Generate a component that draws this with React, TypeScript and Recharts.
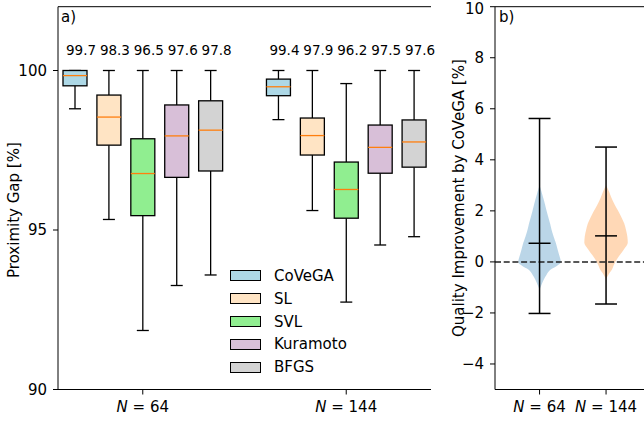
import React from 'react';
import { ComposedChart, Bar, Area, XAxis, YAxis, ReferenceLine } from 'recharts';

const FONT = '"DejaVu Sans", sans-serif';

// panel a) box plots
const methods = ['CoVeGA', 'SL', 'SVL', 'Kuramoto', 'BFGS'];
const sizes = ['64', '144'];
const boxColors = ['#add8e6', '#ffe4c4', '#90ee90', '#d8bfd8', '#d3d3d3'];

const whiskerLow = [
  [98.8, 95.33, 91.85, 93.26, 93.59],
  [98.46, 95.61, 92.74, 94.53, 94.79],
];
const quartile1 = [
  [99.52, 97.66, 95.45, 96.65, 96.85],
  [99.21, 97.35, 95.37, 96.78, 96.97],
];
const medians = [
  [99.84, 98.54, 96.77, 97.95, 98.13],
  [99.49, 97.96, 96.27, 97.59, 97.76],
];
const quartile3 = [
  [100.0, 99.23, 97.86, 98.92, 99.05],
  [99.73, 98.51, 97.13, 98.29, 98.45],
];
const whiskerHigh = [
  [100.0, 100.0, 100.0, 100.0, 100.0],
  [100.0, 100.0, 99.59, 100.0, 100.0],
];
const meanLabels = [
  ['99.7', '98.3', '96.5', '97.6', '97.8'],
  ['99.4', '97.9', '96.2', '97.5', '97.6'],
];
const labelLevel = 100.65;

// panel b) violins
const violinLevels = [-1.1, -0.9, -0.7, -0.5, -0.3, -0.15, 0, 0.25, 0.5, 0.75, 1.0, 1.25, 1.5, 1.75, 2.0, 2.25, 2.5, 2.75, 3.0];
const density64 = [0, 0.09, 0.19, 0.32, 0.51, 0.8, 0.97, 0.9, 0.82, 0.74, 0.64, 0.55, 0.48, 0.4, 0.32, 0.25, 0.17, 0.09, 0];
const density144 = [0, 0, 0.01, 0.11, 0.27, 0.34, 0.42, 0.61, 0.82, 0.99, 0.97, 0.91, 0.83, 0.7, 0.55, 0.39, 0.25, 0.14, 0];
const violinMin = [-2.02, -1.65];
const violinMax = [5.62, 4.5];
const violinMean = [0.73, 1.02];
const violinColors = ['#1f77b4', '#ff7f0e'];
const halfWidth = 0.33;

const boxData: any[] = [];
sizes.forEach((s, g) => {
  if (g > 0) boxData.push({ pos: String(boxData.length + 1) });
  methods.forEach((m, i) => {
    boxData.push({
      pos: String(boxData.length + 1),
      method: m,
      size: s,
      range: [whiskerLow[g][i], whiskerHigh[g][i]],
      q1: quartile1[g][i],
      median: medians[g][i],
      q3: quartile3[g][i],
      label: meanLabels[g][i],
      color: boxColors[i],
    });
  });
});
const groupTick: Record<string, string> = { '3': sizes[0], '9': sizes[1] };

const violinData = violinLevels.map((y, i) => ({ y, d64: density64[i], d144: density144[i] }));

const BoxShape = (props: any) => {
  const { x, y, width, height, payload } = props;
  if (!payload || !payload.range) return null;
  const [lo, hi] = payload.range;
  const top = Math.min(y, y + height);
  const bottom = Math.max(y, y + height);
  const toPx = (v: number) => top + ((hi - v) / (hi - lo)) * (bottom - top);
  const cx = x + width / 2;
  const cap = width / 4;
  return (
    <g>
      <line x1={cx} x2={cx} y1={toPx(hi)} y2={toPx(payload.q3)} stroke="#000" strokeWidth={1.3} />
      <line x1={cx} x2={cx} y1={toPx(payload.q1)} y2={toPx(lo)} stroke="#000" strokeWidth={1.3} />
      <line x1={cx - cap} x2={cx + cap} y1={toPx(hi)} y2={toPx(hi)} stroke="#000" strokeWidth={1.3} />
      <line x1={cx - cap} x2={cx + cap} y1={toPx(lo)} y2={toPx(lo)} stroke="#000" strokeWidth={1.3} />
      <rect
        x={x}
        y={toPx(payload.q3)}
        width={width}
        height={toPx(payload.q1) - toPx(payload.q3)}
        fill={payload.color}
        stroke="#000"
        strokeWidth={1.3}
      />
      <line x1={x} x2={x + width} y1={toPx(payload.median)} y2={toPx(payload.median)} stroke="#ff7f0e" strokeWidth={1.3} />
      <text x={cx + 6} y={toPx(labelLevel)} textAnchor="middle" dominantBaseline="central" fontSize={13.5} fill="#000">
        {payload.label}
      </text>
    </g>
  );
};

const NTick = ({ x, y, text }: any) => (
  <text x={x} y={y} dy={10} textAnchor="middle" dominantBaseline="central" fontSize={15} fill="#000">
    <tspan fontStyle="italic">N</tspan> = {text}
  </text>
);

const minus = (v: number) => (v < 0 ? '\u2212' + Math.abs(v) : String(v));

const rotatedLabel = (text: string, dx: number, dy: number) => (props: any) => {
  const vb = props.viewBox || {};
  const cx = (vb.x || 0) + dx;
  const cy = (vb.y || 0) + (vb.height || 0) / 2 + dy;
  return (
    <text x={cx} y={cy} transform={`rotate(-90 ${cx} ${cy})`} textAnchor="middle" dominantBaseline="central" fontSize={15} fill="#000">
      {text}
    </text>
  );
};

const LeftChart = () => (
  <ComposedChart width={440} height={424} data={boxData} margin={{ top: 6.7, right: 9, bottom: 4.5, left: 0 }}>
    <XAxis
      dataKey="pos"
      type="category"
      ticks={['3', '9']}
      interval={0}
      height={30}
      tickSize={5}
      stroke="#000"
      tick={(p: any) => <NTick x={p.x} y={p.y} text={groupTick[p.payload.value]} />}
    />
    <YAxis
      type="number"
      domain={[90, 102]}
      ticks={[90, 95, 100]}
      width={58}
      tickSize={5}
      tickMargin={6}
      stroke="#000"
      tick={{ fontSize: 15, fill: '#000' }}
      label={{ content: rotatedLabel('Proximity Gap [%]', 14, 12) }}
    />
    <YAxis yAxisId="frame" orientation="right" width={0} type="number" domain={[90, 102]} tick={false} tickLine={false} stroke="#000" />
    <ReferenceLine y={102} stroke="#000" />
    <Bar dataKey="range" barSize={24} shape={(p: any) => <BoxShape {...p} />} isAnimationActive={false} />
  </ComposedChart>
);

const RightChart = () => (
  <ComposedChart layout="vertical" width={240} height={424} data={violinData} margin={{ top: 6.7, right: 19.4, bottom: 4.5, left: 0 }}>
    <XAxis
      type="number"
      domain={[0.33, 2.67]}
      ticks={[1, 2]}
      allowDataOverflow
      height={30}
      tickSize={5}
      stroke="#000"
      tick={(p: any) => <NTick x={p.x} y={p.y} text={sizes[p.payload.value - 1]} />}
    />
    <YAxis
      type="number"
      dataKey="y"
      reversed
      domain={[-5, 10]}
      ticks={[-4, -2, 0, 2, 4, 6, 8, 10]}
      allowDataOverflow
      width={65}
      tickSize={5}
      tickMargin={6}
      stroke="#000"
      tickFormatter={minus}
      tick={{ fontSize: 15, fill: '#000' }}
      label={{ content: rotatedLabel('Quality Improvement by CoVeGA [%]', 29, 0) }}
    />
    <Area
      dataKey={(d: any) => [1 - halfWidth * d.d64, 1 + halfWidth * d.d64]}
      type="monotone"
      stroke="none"
      fill={violinColors[0]}
      fillOpacity={0.3}
      isAnimationActive={false}
    />
    <Area
      dataKey={(d: any) => [2 - halfWidth * d.d144, 2 + halfWidth * d.d144]}
      type="monotone"
      stroke="none"
      fill={violinColors[1]}
      fillOpacity={0.3}
      isAnimationActive={false}
    />
    <ReferenceLine y={0} stroke="#222" strokeDasharray="6 2.7" strokeWidth={1.5} />
    <ReferenceLine y={10} stroke="#000" />
    {sizes.map((s, i) => {
      const p = i + 1;
      const c = halfWidth / 2;
      return (
        <React.Fragment key={s}>
          <ReferenceLine segment={[{ x: p, y: violinMin[i] }, { x: p, y: violinMax[i] }]} stroke="#000" strokeWidth={1.5} />
          <ReferenceLine segment={[{ x: p - c, y: violinMax[i] }, { x: p + c, y: violinMax[i] }]} stroke="#000" strokeWidth={1.5} />
          <ReferenceLine segment={[{ x: p - c, y: violinMin[i] }, { x: p + c, y: violinMin[i] }]} stroke="#000" strokeWidth={1.5} />
          <ReferenceLine segment={[{ x: p - c, y: violinMean[i] }, { x: p + c, y: violinMean[i] }]} stroke="#000" strokeWidth={1.5} />
        </React.Fragment>
      );
    })}
  </ComposedChart>
);

const BoxLegend = () => (
  <div style={{ position: 'absolute', left: 230, top: 264.6, fontSize: 15 }}>
    {methods.map((m, i) => (
      <div key={m} style={{ display: 'flex', alignItems: 'center', height: 22.8 }}>
        <span style={{ display: 'inline-block', width: 29, height: 9, background: boxColors[i], border: '1px solid #000', marginRight: 13 }} />
        <span>{m}</span>
      </div>
    ))}
  </div>
);

export default function App() {
  return (
    <div style={{ position: 'absolute', left: 0, top: 0, width: 644, height: 424, overflow: 'hidden', background: '#fff', fontFamily: FONT }}>
      <div style={{ position: 'absolute', left: 0, top: 0 }}>
        <LeftChart />
      </div>
      <div style={{ position: 'absolute', left: 430, top: 0 }}>
        <RightChart />
      </div>
      <BoxLegend />
      <div style={{ position: 'absolute', left: 61, top: 8, fontSize: 15, lineHeight: '18px' }}>a)</div>
      <div style={{ position: 'absolute', left: 499, top: 8, fontSize: 15, lineHeight: '18px' }}>b)</div>
    </div>
  );
}
